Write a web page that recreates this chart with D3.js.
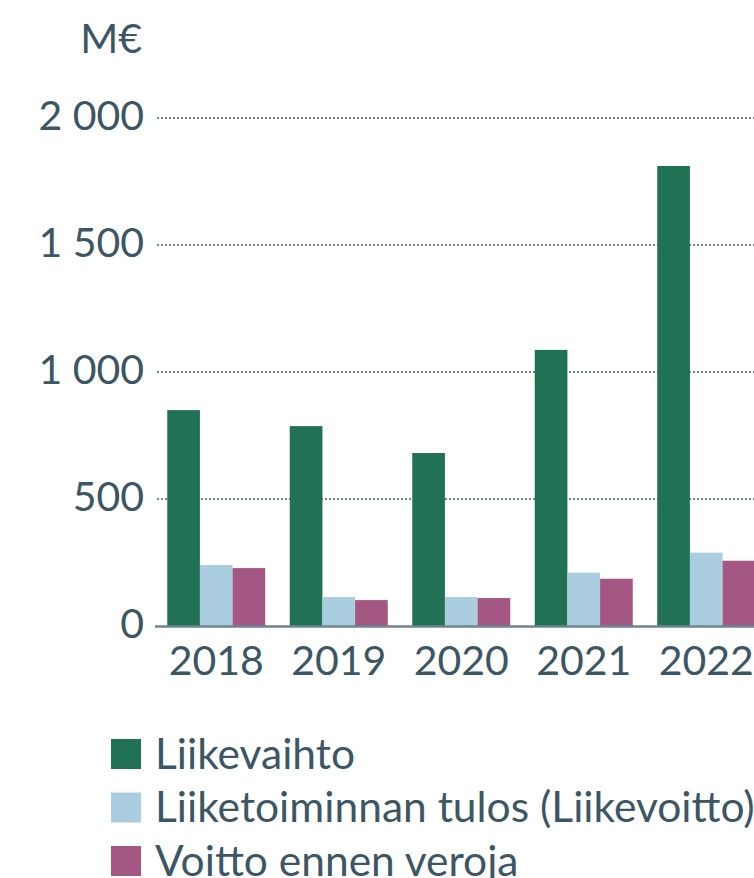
<!DOCTYPE html>
<html>
<head>
<meta charset="utf-8">
<script src="https://cdn.jsdelivr.net/npm/d3@7"></script>
<style>
  html, body { margin: 0; padding: 0; background: #ffffff; }
  svg { display: block; }
  text { font-family: Lato, "Open Sans", sans-serif; fill: #3d5663; }
</style>
</head>
<body>
<svg id="chart" width="754" height="878"></svg>
<script>
const years = ["2018", "2019", "2020", "2021", "2022"];
const seriesNames = ["Liikevaihto", "Liiketoiminnan tulos (Liikevoitto)", "Voitto ennen veroja"];
const liikevaihto = [850, 787, 681, 1087, 1811];
const liiketoiminnanTulos = [240, 114, 114, 210, 289];
const voittoEnnenVeroja = [228, 102, 110, 186, 257];
const seriesColors = ["#217154", "#abcde0", "#a45783"];
const yTickValues = [0, 500, 1000, 1500, 2000];
const yTickLabels = ["0", "500", "1 000", "1 500", "2 000"];
const unitLabel = "M€";

const seriesValues = [liikevaihto, liiketoiminnanTulos, voittoEnnenVeroja];

const svg = d3.select("#chart");
const fontSize = 41;

const x0 = d3.scaleBand().domain(years).range([155, 767.5]).paddingInner(0.2).paddingOuter(0.1);
const x1 = d3.scaleBand().domain(d3.range(seriesNames.length)).range([0, x0.bandwidth()]);
const y = d3.scaleLinear().domain([0, 2000]).range([626, 118]);

// gridlines
svg.append("g").selectAll("line")
  .data(yTickValues.filter(v => v > 0))
  .join("line")
  .attr("x1", 157).attr("x2", 754)
  .attr("y1", d => y(d)).attr("y2", d => y(d))
  .attr("stroke", "#6e8591").attr("stroke-width", 2)
  .attr("stroke-dasharray", "2,2");

// y tick labels
svg.append("g").selectAll("text")
  .data(yTickValues)
  .join("text")
  .attr("x", 144)
  .attr("y", d => y(d) + 11.5)
  .attr("text-anchor", "end")
  .attr("font-size", fontSize)
  .text((d, i) => yTickLabels[i]);

// unit label
svg.append("text")
  .attr("x", 142).attr("y", 53)
  .attr("text-anchor", "end")
  .attr("font-size", fontSize)
  .text(unitLabel);

// bars
const groups = svg.append("g").selectAll("g")
  .data(years)
  .join("g")
  .attr("transform", d => `translate(${x0(d)},0)`);

groups.selectAll("rect")
  .data((d, i) => seriesValues.map((vals, s) => ({ s, v: vals[i] })))
  .join("rect")
  .attr("x", d => x1(d.s))
  .attr("width", x1.bandwidth())
  .attr("y", d => y(d.v))
  .attr("height", d => y(0) - y(d.v))
  .attr("fill", d => seriesColors[d.s]);

// baseline
svg.append("line")
  .attr("x1", 155).attr("x2", 754)
  .attr("y1", y(0) + 0.5).attr("y2", y(0) + 0.5)
  .attr("stroke", "#6e8591").attr("stroke-width", 2.5);

// x labels
svg.append("g").selectAll("text")
  .data(years)
  .join("text")
  .attr("x", d => x0(d) + x0.bandwidth() / 2)
  .attr("y", 675)
  .attr("text-anchor", "middle")
  .attr("font-size", fontSize)
  .text(d => d);

// legend
const legend = svg.append("g").selectAll("g")
  .data(seriesNames)
  .join("g")
  .attr("transform", (d, i) => `translate(111,${739 + i * 53.5})`);

legend.append("rect")
  .attr("width", 30).attr("height", 30)
  .attr("fill", (d, i) => seriesColors[i]);

legend.append("text")
  .attr("x", 44).attr("y", 29.5)
  .attr("font-size", 42.5)
  .text(d => d);
</script>
</body>
</html>
